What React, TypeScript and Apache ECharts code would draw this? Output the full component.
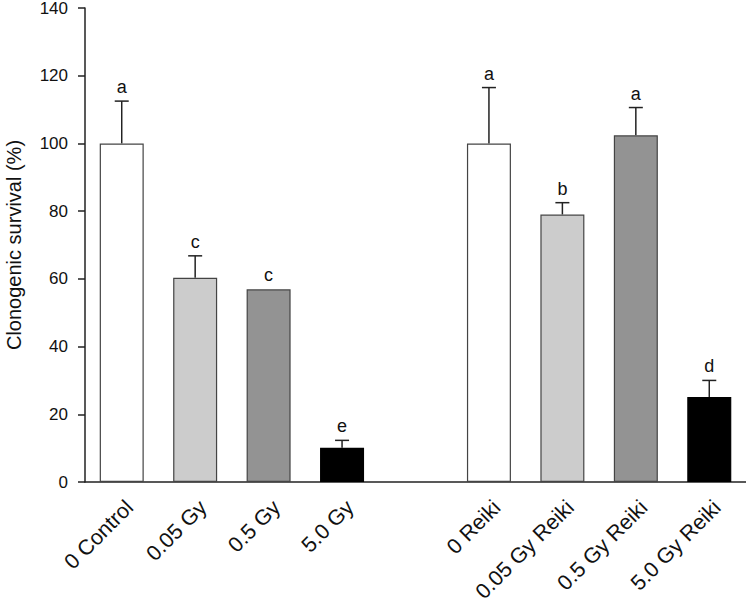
import React, { useEffect, useRef } from "react";
import * as echarts from "echarts";

const categories = ["0 Control", "0.05 Gy", "0.5 Gy", "5.0 Gy", "", "0 Reiki", "0.05 Gy Reiki", "0.5 Gy Reiki", "5.0 Gy Reiki"];
const means: (number | null)[] = [100, 60.3, 56.9, 10.1, null, 100, 79.0, 102.4, 25.1];
const sds: (number | null)[] = [12.5, 6.5, 0, 2.2, null, 16.5, 3.5, 8.2, 4.9];
const letters: string[] = ["a", "c", "c", "e", "", "a", "b", "a", "d"];
const barColors: string[] = ["#ffffff", "#cccccc", "#939393", "#000000", "#ffffff", "#ffffff", "#cccccc", "#939393", "#000000"];
const yTicks = { min: 0, max: 140, interval: 20 };

const FONT = "'Liberation Sans', Arial, Helvetica, sans-serif";

export default function App() {
  const ref = useRef<HTMLDivElement>(null);
  useEffect(() => {
    if (!ref.current) return;
    const chart = echarts.init(ref.current, undefined, { renderer: "svg" });
    const errData = means
      .map((m, i) => (m == null ? null : [i, m, sds[i] ?? 0, letters[i]]))
      .filter((d) => d !== null);
    chart.setOption({
      animation: false,
      backgroundColor: "#ffffff",
      textStyle: { fontFamily: FONT },
      grid: [
        { left: 85, right: 0, top: 8, bottom: 126, containLabel: false, outerBoundsMode: "none" },
        { left: 93, right: -8, top: 8, bottom: 126, containLabel: false, outerBoundsMode: "none" },
      ],
      xAxis: [
        {
          type: "category",
          gridIndex: 0,
          data: categories,
          axisLine: { show: true, lineStyle: { color: "#222", width: 1.5 } },
          axisTick: { show: false },
          axisLabel: { show: false },
        },
        {
          type: "category",
          gridIndex: 1,
          data: categories,
          axisLine: { show: false },
          axisTick: { show: false },
          axisLabel: { show: true, rotate: 45, margin: 22, fontSize: 21.5, color: "#111", fontFamily: FONT, interval: 0 },
        },
      ],
      yAxis: [
        {
          type: "value",
          gridIndex: 0,
          min: yTicks.min,
          max: yTicks.max,
          interval: yTicks.interval,
          name: "Clonogenic survival (%)",
          nameLocation: "middle",
          nameGap: 61,
          nameTextStyle: { fontSize: 20, color: "#111", fontFamily: FONT },
          axisLine: { show: true, lineStyle: { color: "#222", width: 1.5 } },
          axisTick: { show: true, inside: false, length: 7, lineStyle: { color: "#222", width: 1.5 } },
          axisLabel: { margin: 17, fontSize: 17, color: "#111", fontFamily: FONT },
          splitLine: { show: false },
        },
        { type: "value", gridIndex: 1, min: 0, max: 140, show: false },
      ],
      series: [
        {
          type: "bar",
          xAxisIndex: 0,
          yAxisIndex: 0,
          barWidth: 44,
          data: means.map((m, i) =>
            m == null
              ? "-"
              : {
                  value: m,
                  itemStyle: {
                    color: barColors[i],
                    borderColor: barColors[i] === "#000000" ? "#000" : "#444",
                    borderWidth: 1.2,
                  },
                }
          ),
        },
        {
          type: "custom",
          xAxisIndex: 0,
          yAxisIndex: 0,
          data: errData,
          encode: { x: 0, y: 1 },
          renderItem: (params: any, api: any) => {
            const x = api.value(0);
            const m = api.value(1);
            const sd = api.value(2);
            const letter = letters[x];
            const base = api.coord([x, m]);
            const top = api.coord([x, m + sd]);
            const children: any[] = [];
            if (sd > 0) {
              children.push({
                type: "line",
                shape: { x1: base[0], y1: base[1], x2: top[0], y2: top[1] },
                style: { stroke: "#222", lineWidth: 1.5 },
              });
              children.push({
                type: "line",
                shape: { x1: top[0] - 7, y1: top[1], x2: top[0] + 7, y2: top[1] },
                style: { stroke: "#222", lineWidth: 1.5 },
              });
            }
            children.push({
              type: "text",
              style: {
                text: letter,
                x: top[0],
                y: top[1] - 14,
                textAlign: "center",
                textVerticalAlign: "middle",
                fontSize: 18,
                fontFamily: FONT,
                fill: "#111",
              },
            });
            return { type: "group", children };
          },
        },
      ],
    });
    return () => chart.dispose();
  }, []);
  return (
    <div
      ref={ref}
      style={{ position: "absolute", left: 0, top: 0, width: 746, height: 608, background: "#fff" }}
    />
  );
}
